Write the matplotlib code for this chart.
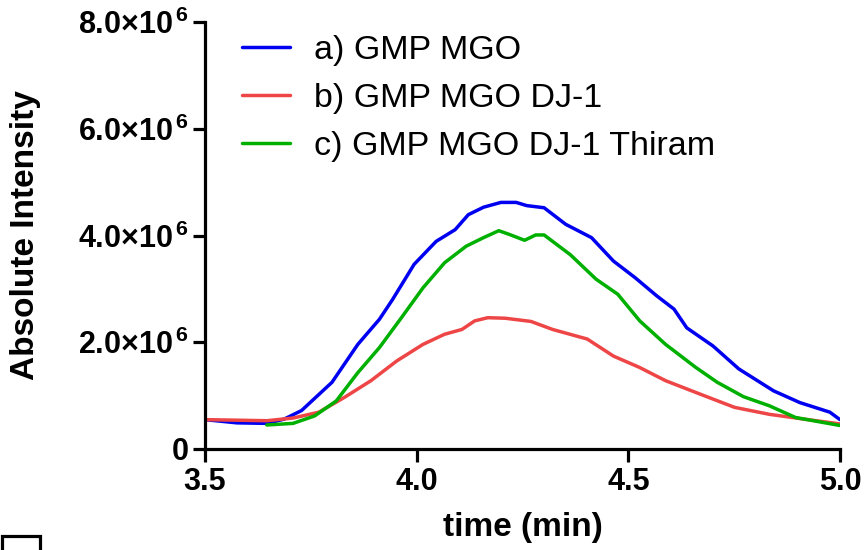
import matplotlib
matplotlib.use("Agg")
import matplotlib.pyplot as plt
from matplotlib.patches import Rectangle
from matplotlib.ticker import FuncFormatter

plt.rcParams['font.family'] = ['Liberation Sans', 'DejaVu Sans']
plt.rcParams['mathtext.fontset'] = 'custom'
plt.rcParams['mathtext.rm'] = 'Liberation Sans:bold'
plt.rcParams['mathtext.it'] = 'Liberation Sans:bold'
plt.rcParams['mathtext.bf'] = 'Liberation Sans:bold'

# ---- data (intensity in units of 1e6) ----
t_a = [3.5, 3.575, 3.646, 3.687, 3.728, 3.80, 3.861, 3.912, 3.943, 3.994, 4.046, 4.091,
       4.122, 4.158, 4.199, 4.235, 4.260, 4.301, 4.352, 4.413, 4.465, 4.516, 4.567, 4.608,
       4.638, 4.700, 4.761, 4.843, 4.905, 4.976, 5.0]
a_vals = [0.55, 0.49, 0.48, 0.56, 0.72, 1.25, 1.96, 2.43, 2.80, 3.46, 3.89, 4.11,
          4.39, 4.53, 4.62, 4.62, 4.56, 4.52, 4.21, 3.96, 3.52, 3.21, 2.87, 2.62,
          2.27, 1.93, 1.50, 1.09, 0.87, 0.69, 0.55]

t_b = [3.5, 3.646, 3.708, 3.769, 3.83, 3.892, 3.953, 4.015, 4.066, 4.107, 4.137, 4.168,
       4.209, 4.27, 4.321, 4.403, 4.465, 4.526, 4.588, 4.669, 4.751, 4.833, 4.915, 5.0]
b_vals = [0.55, 0.53, 0.58, 0.69, 0.97, 1.28, 1.65, 1.96, 2.15, 2.24, 2.40, 2.46,
          2.45, 2.39, 2.24, 2.06, 1.74, 1.53, 1.28, 1.03, 0.78, 0.65, 0.56, 0.47]

t_c = [3.646, 3.708, 3.759, 3.81, 3.861, 3.912, 3.964, 4.015, 4.066, 4.117, 4.158, 4.194,
       4.219, 4.255, 4.281, 4.301, 4.363, 4.424, 4.475, 4.527, 4.588, 4.659, 4.71, 4.772,
       4.833, 4.895, 5.0]
c_vals = [0.45, 0.48, 0.62, 0.90, 1.43, 1.90, 2.46, 3.02, 3.49, 3.80, 3.96, 4.09,
          4.02, 3.91, 4.01, 4.01, 3.64, 3.18, 2.90, 2.40, 1.96, 1.53, 1.25, 0.98,
          0.81, 0.59, 0.44]

labels = ['a) GMP MGO', 'b) GMP MGO DJ-1', 'c) GMP MGO DJ-1 Thiram']
colors = ['#0000f0', '#ee4646', '#00b000']
x_ticks = [3.5, 4.0, 4.5, 5.0]
y_ticks = [0, 2e6, 4e6, 6e6, 8e6]

W, H = 865, 550
fig = plt.figure(figsize=(W / 100, H / 100), dpi=100)
ax = fig.add_axes([205 / W, 1 - 449 / H, (840 - 205) / W, (449 - 22) / H])

for t, v, lab, col in zip([t_a, t_b, t_c], [a_vals, b_vals, c_vals], labels, colors):
    ax.plot(t, [x * 1e6 for x in v], color=col, lw=2.5, label=lab, solid_capstyle='round')

ax.set_xlim(3.5, 5.0)
ax.set_ylim(0, 8e6)
ax.set_xticks(x_ticks)
ax.set_yticks(y_ticks)


def yfmt(v, pos):
    if v == 0:
        return r'$0$'
    m = v / 1e6
    return r'$%.1f{\times}10^{\,6}$' % m


ax.yaxis.set_major_formatter(FuncFormatter(yfmt))
ax.set_xticklabels(['%.1f' % x for x in x_ticks], fontweight='bold')
for s in ['top', 'right']:
    ax.spines[s].set_visible(False)
for s in ['left', 'bottom']:
    ax.spines[s].set_linewidth(2.3)
ax.tick_params(axis='both', direction='out', length=9, width=2.3, labelsize=22, pad=4)
ax.tick_params(axis='y', pad=3)
for lab in ax.get_xticklabels():
    lab.set_fontweight('bold')

ax.set_xlabel('time (min)', fontsize=24, fontweight='bold', labelpad=11)
ax.set_ylabel('Absolute Intensity', fontsize=24, fontweight='bold', labelpad=26)

leg = ax.legend(loc='upper left', bbox_to_anchor=(37 / 635, 1 - 13 / 427), frameon=False,
                fontsize=24.5, handlelength=1.4, handletextpad=0.72, labelspacing=0.5,
                borderaxespad=0.0, borderpad=0.0)
for line in leg.get_lines():
    line.set_linewidth(2.5)

# small square artifact at bottom-left
fig.add_artist(Rectangle((1.5 / W, -5 / H), 38 / W, (14 + 5) / H, transform=fig.transFigure,
                         fill=False, lw=2.3, ec='black'))

fig.savefig('out.png', dpi=100)
